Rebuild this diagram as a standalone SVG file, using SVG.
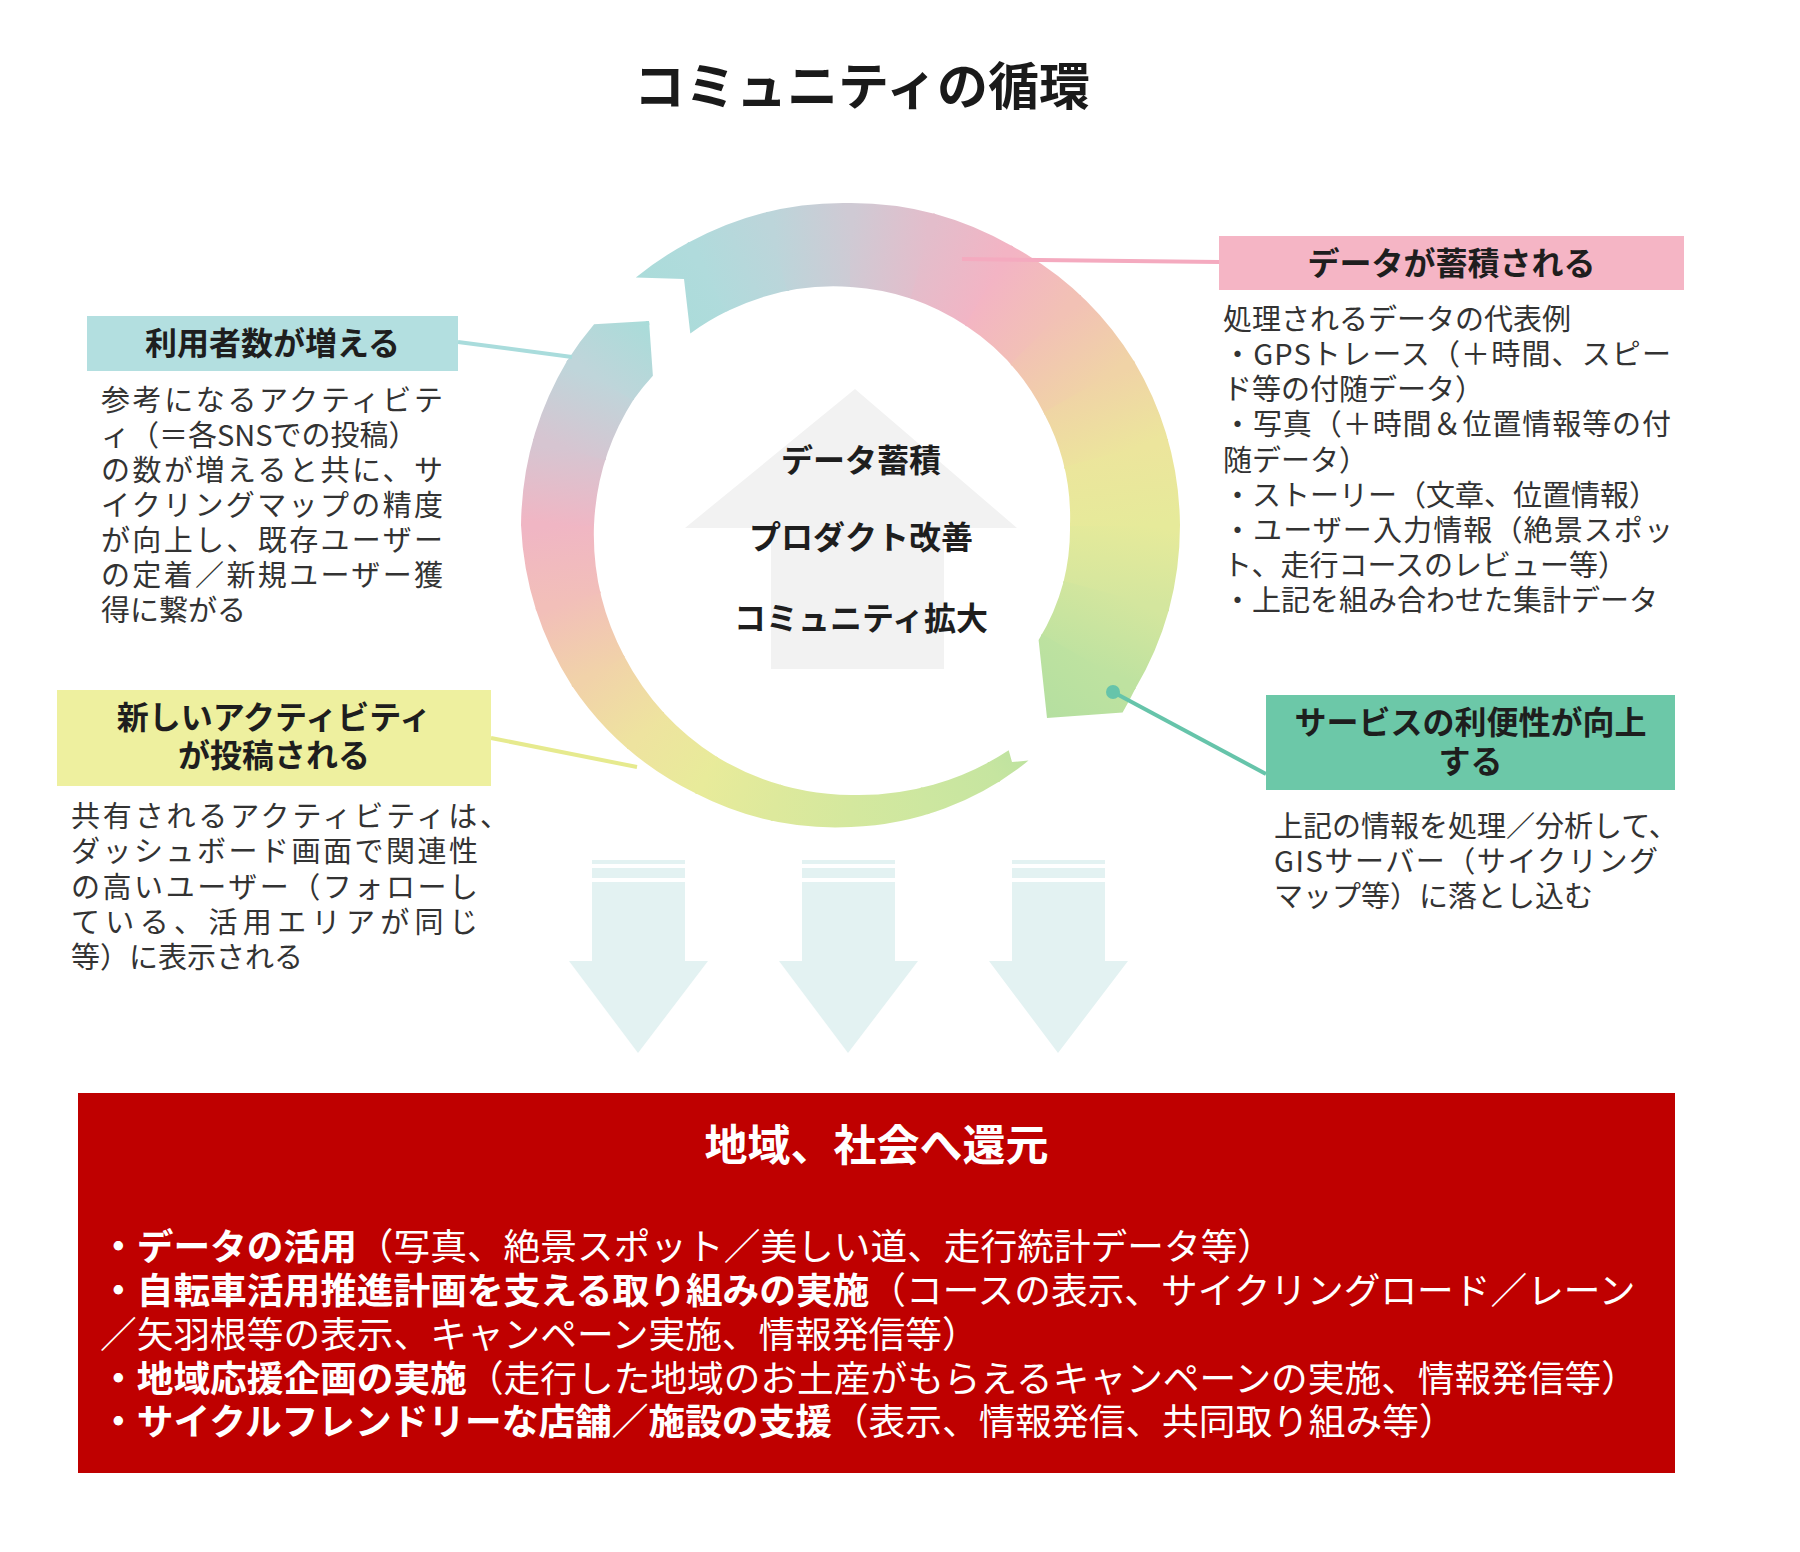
<svg xmlns="http://www.w3.org/2000/svg" width="1800" height="1552" viewBox="0 0 1800 1552">
<style>
text{font-family:"Noto Sans CJK JP","Noto Sans CJK SC",sans-serif;}
.t{font-size:51px;font-weight:700;fill:#1a1a1a;text-anchor:middle}
.lbl{font-size:32px;font-weight:700;fill:#1e1e1e;text-anchor:middle}
.body{font-size:29px;fill:#333}
.ctr{font-size:32px;font-weight:700;fill:#1e1e1e;text-anchor:middle}
.rt{font-size:43px;font-weight:700;fill:#fff;text-anchor:middle}
.rb{font-size:36.7px;fill:#fff}
.b{font-weight:700}
.ln{stroke-width:4;fill:none}
.da{fill:#e3f2f2}
.w{stroke-width:2}
</style>
<defs>
<linearGradient id="g0" gradientUnits="userSpaceOnUse" x1="1141" y1="525" x2="1131.1" y2="600.1"><stop offset="0" stop-color="#e6ea9a"/><stop offset="1" stop-color="#d4e69e"/></linearGradient>
<linearGradient id="g1" gradientUnits="userSpaceOnUse" x1="1131.1" y1="600.1" x2="1102.1" y2="670"><stop offset="0" stop-color="#d4e69e"/><stop offset="1" stop-color="#bee2a0"/></linearGradient>
<linearGradient id="g2" gradientUnits="userSpaceOnUse" x1="1102.1" y1="670" x2="1056.1" y2="730.1"><stop offset="0" stop-color="#bee2a0"/><stop offset="1" stop-color="#b4dfa0"/></linearGradient>
<linearGradient id="g3" gradientUnits="userSpaceOnUse" x1="1056.1" y1="730.1" x2="996" y2="776.1"><stop offset="0" stop-color="#b4dfa0"/><stop offset="1" stop-color="#c6e5a0"/></linearGradient>
<linearGradient id="g4" gradientUnits="userSpaceOnUse" x1="996" y1="776.1" x2="926.1" y2="805.1"><stop offset="0" stop-color="#c6e5a0"/><stop offset="1" stop-color="#cde7a0"/></linearGradient>
<linearGradient id="g5" gradientUnits="userSpaceOnUse" x1="926.1" y1="805.1" x2="851" y2="815"><stop offset="0" stop-color="#cde7a0"/><stop offset="1" stop-color="#d4e89e"/></linearGradient>
<linearGradient id="g6" gradientUnits="userSpaceOnUse" x1="851" y1="815" x2="775.9" y2="805.1"><stop offset="0" stop-color="#d4e89e"/><stop offset="1" stop-color="#dde99c"/></linearGradient>
<linearGradient id="g7" gradientUnits="userSpaceOnUse" x1="775.9" y1="805.1" x2="706" y2="776.1"><stop offset="0" stop-color="#dde99c"/><stop offset="1" stop-color="#e8eb9a"/></linearGradient>
<linearGradient id="g8" gradientUnits="userSpaceOnUse" x1="706" y1="776.1" x2="645.9" y2="730.1"><stop offset="0" stop-color="#e8eb9a"/><stop offset="1" stop-color="#eee39f"/></linearGradient>
<linearGradient id="g9" gradientUnits="userSpaceOnUse" x1="645.9" y1="730.1" x2="599.9" y2="670"><stop offset="0" stop-color="#eee39f"/><stop offset="1" stop-color="#f1d2a9"/></linearGradient>
<linearGradient id="g10" gradientUnits="userSpaceOnUse" x1="599.9" y1="670" x2="570.9" y2="600.1"><stop offset="0" stop-color="#f1d2a9"/><stop offset="1" stop-color="#f2bfb9"/></linearGradient>
<linearGradient id="g11" gradientUnits="userSpaceOnUse" x1="570.9" y1="600.1" x2="561" y2="525"><stop offset="0" stop-color="#f2bfb9"/><stop offset="1" stop-color="#f0b6c4"/></linearGradient>
<linearGradient id="g12" gradientUnits="userSpaceOnUse" x1="561" y1="525" x2="570.9" y2="449.9"><stop offset="0" stop-color="#f0b6c4"/><stop offset="1" stop-color="#d6c5d1"/></linearGradient>
<linearGradient id="g13" gradientUnits="userSpaceOnUse" x1="570.9" y1="449.9" x2="599.9" y2="380"><stop offset="0" stop-color="#d6c5d1"/><stop offset="1" stop-color="#bfd5da"/></linearGradient>
<linearGradient id="g14" gradientUnits="userSpaceOnUse" x1="599.9" y1="380" x2="645.9" y2="319.9"><stop offset="0" stop-color="#bfd5da"/><stop offset="1" stop-color="#a9dcd9"/></linearGradient>
<linearGradient id="g15" gradientUnits="userSpaceOnUse" x1="645.9" y1="319.9" x2="706" y2="273.9"><stop offset="0" stop-color="#a9dcd9"/><stop offset="1" stop-color="#b0dbdc"/></linearGradient>
<linearGradient id="g16" gradientUnits="userSpaceOnUse" x1="706" y1="273.9" x2="775.9" y2="244.9"><stop offset="0" stop-color="#b0dbdc"/><stop offset="1" stop-color="#bcd5da"/></linearGradient>
<linearGradient id="g17" gradientUnits="userSpaceOnUse" x1="775.9" y1="244.9" x2="851" y2="235"><stop offset="0" stop-color="#bcd5da"/><stop offset="1" stop-color="#cfcad4"/></linearGradient>
<linearGradient id="g18" gradientUnits="userSpaceOnUse" x1="851" y1="235" x2="926.1" y2="244.9"><stop offset="0" stop-color="#cfcad4"/><stop offset="1" stop-color="#e3bdcb"/></linearGradient>
<linearGradient id="g19" gradientUnits="userSpaceOnUse" x1="926.1" y1="244.9" x2="996" y2="273.9"><stop offset="0" stop-color="#e3bdcb"/><stop offset="1" stop-color="#f3b4c4"/></linearGradient>
<linearGradient id="g20" gradientUnits="userSpaceOnUse" x1="996" y1="273.9" x2="1056.1" y2="319.9"><stop offset="0" stop-color="#f3b4c4"/><stop offset="1" stop-color="#f2c1b5"/></linearGradient>
<linearGradient id="g21" gradientUnits="userSpaceOnUse" x1="1056.1" y1="319.9" x2="1102.1" y2="380"><stop offset="0" stop-color="#f2c1b5"/><stop offset="1" stop-color="#f0d3a6"/></linearGradient>
<linearGradient id="g22" gradientUnits="userSpaceOnUse" x1="1102.1" y1="380" x2="1131.1" y2="449.9"><stop offset="0" stop-color="#f0d3a6"/><stop offset="1" stop-color="#ece59c"/></linearGradient>
<linearGradient id="g23" gradientUnits="userSpaceOnUse" x1="1131.1" y1="449.9" x2="1141" y2="525"><stop offset="0" stop-color="#ece59c"/><stop offset="1" stop-color="#e6ea9a"/></linearGradient>
<clipPath id="ringClip">
<path id="seg1" d="M635.8,277.5 A327 327 0 0 1 688,242.7 A324 324 0 0 1 851,203 A322 322 0 0 1 1012,246.1 A324 324 0 0 1 1134.2,361.5 A328 328 0 0 1 1180,525 A329 329 0 0 1 1168.8,610.2 A328 328 0 0 1 1135.1,689 A330 330 0 0 1 1122.6,712.4 L1047,718 L1038.6,640 A220 220 0 0 0 1063.5,581.9 A220 220 0 0 0 1070,525 A221 221 0 0 0 1044.1,413.5 A226 226 0 0 0 966,325.8 A234 234 0 0 0 851,287 A242 242 0 0 0 727.5,311.1 A248 248 0 0 0 690.3,333.5 L684,279 Z"/>
<path id="seg2" d="M1028.5,760.6 A298 298 0 0 1 851,827 A306 306 0 0 1 696,793.5 A316 316 0 0 1 572.1,686 A326 326 0 0 1 521,525 A329 329 0 0 1 567,361 A327 327 0 0 1 594.1,324.3 L649,321 L652.9,375.8 A250 250 0 0 0 633.6,399.5 A254 254 0 0 0 594,525 A260 260 0 0 0 624.1,656 A265 265 0 0 0 717,757.1 A269 269 0 0 0 851,795 A272 272 0 0 0 1008.7,750.3 L1012,762 Z"/>
</clipPath>
</defs>
<rect x="0" y="0" width="1800" height="1552" fill="#fff"/>

<text class="t" x="862" y="105">コミュニティの循環</text>

<g id="center-arrow">
<polygon points="855,389 1017,528 944,528 944,669 771,669 771,528 685,528" fill="#f2f2f2"/>
<text class="ctr"><tspan x="861" y="472">データ蓄積</tspan><tspan x="861" y="549">プロダクト改善</tspan><tspan x="861" y="630">コミュニティ拡大</tspan></text>
</g>

<g id="cycle-ring" clip-path="url(#ringClip)">
<polygon class="w" fill="url(#g0)" stroke="url(#g0)" points="851,525 1271,525 1256.7,633.7"/>
<polygon class="w" fill="url(#g1)" stroke="url(#g1)" points="851,525 1256.7,633.7 1214.7,735"/>
<polygon class="w" fill="url(#g2)" stroke="url(#g2)" points="851,525 1214.7,735 1148,822"/>
<polygon class="w" fill="url(#g3)" stroke="url(#g3)" points="851,525 1148,822 1061,888.7"/>
<polygon class="w" fill="url(#g4)" stroke="url(#g4)" points="851,525 1061,888.7 959.7,930.7"/>
<polygon class="w" fill="url(#g5)" stroke="url(#g5)" points="851,525 959.7,930.7 851,945"/>
<polygon class="w" fill="url(#g6)" stroke="url(#g6)" points="851,525 851,945 742.3,930.7"/>
<polygon class="w" fill="url(#g7)" stroke="url(#g7)" points="851,525 742.3,930.7 641,888.7"/>
<polygon class="w" fill="url(#g8)" stroke="url(#g8)" points="851,525 641,888.7 554,822"/>
<polygon class="w" fill="url(#g9)" stroke="url(#g9)" points="851,525 554,822 487.3,735"/>
<polygon class="w" fill="url(#g10)" stroke="url(#g10)" points="851,525 487.3,735 445.3,633.7"/>
<polygon class="w" fill="url(#g11)" stroke="url(#g11)" points="851,525 445.3,633.7 431,525"/>
<polygon class="w" fill="url(#g12)" stroke="url(#g12)" points="851,525 431,525 445.3,416.3"/>
<polygon class="w" fill="url(#g13)" stroke="url(#g13)" points="851,525 445.3,416.3 487.3,315"/>
<polygon class="w" fill="url(#g14)" stroke="url(#g14)" points="851,525 487.3,315 554,228"/>
<polygon class="w" fill="url(#g15)" stroke="url(#g15)" points="851,525 554,228 641,161.3"/>
<polygon class="w" fill="url(#g16)" stroke="url(#g16)" points="851,525 641,161.3 742.3,119.3"/>
<polygon class="w" fill="url(#g17)" stroke="url(#g17)" points="851,525 742.3,119.3 851,105"/>
<polygon class="w" fill="url(#g18)" stroke="url(#g18)" points="851,525 851,105 959.7,119.3"/>
<polygon class="w" fill="url(#g19)" stroke="url(#g19)" points="851,525 959.7,119.3 1061,161.3"/>
<polygon class="w" fill="url(#g20)" stroke="url(#g20)" points="851,525 1061,161.3 1148,228"/>
<polygon class="w" fill="url(#g21)" stroke="url(#g21)" points="851,525 1148,228 1214.7,315"/>
<polygon class="w" fill="url(#g22)" stroke="url(#g22)" points="851,525 1214.7,315 1256.7,416.3"/>
<polygon class="w" fill="url(#g23)" stroke="url(#g23)" points="851,525 1256.7,416.3 1271,525"/>
</g>

<g id="connectors">
<line class="ln" x1="458" y1="342" x2="572" y2="357" stroke="#a9dcdc"/>
<line class="ln" x1="962" y1="259" x2="1219" y2="262" stroke="#f4aabf"/>
<line class="ln" x1="491" y1="738" x2="637" y2="767" stroke="#e6ea8e"/>
<line class="ln" x1="1113" y1="692" x2="1266" y2="774" stroke="#66c4aa"/>
<circle cx="1113" cy="692" r="7" fill="#66c4aa"/>
</g>

<g id="node-users">
<rect x="87" y="316" width="371" height="55" fill="#b3dfe0"/>
<text class="lbl" x="272.5" y="355">利用者数が増える</text>
<text class="body"><tspan x="101" y="411" textLength="342" lengthAdjust="spacing">参考になるアクティビテ</tspan><tspan x="101" y="446">ィ（＝各SNSでの投稿）</tspan><tspan x="101" y="481" textLength="342" lengthAdjust="spacing">の数が増えると共に、サ</tspan><tspan x="101" y="516" textLength="342" lengthAdjust="spacing">イクリングマップの精度</tspan><tspan x="101" y="551" textLength="342" lengthAdjust="spacing">が向上し、既存ユーザー</tspan><tspan x="101" y="586" textLength="342" lengthAdjust="spacing">の定着／新規ユーザー獲</tspan><tspan x="101" y="621">得に繋がる</tspan></text>
</g>

<g id="node-data">
<rect x="1219" y="236" width="465" height="54" fill="#f5b5c5"/>
<text class="lbl" x="1451.5" y="275">データが蓄積される</text>
<text class="body"><tspan x="1223" y="330">処理されるデータの代表例</tspan><tspan x="1223" y="365" textLength="448" lengthAdjust="spacing">・GPSトレース（＋時間、スピー</tspan><tspan x="1223" y="400">ド等の付随データ）</tspan><tspan x="1223" y="435" textLength="448" lengthAdjust="spacing">・写真（＋時間＆位置情報等の付</tspan><tspan x="1223" y="470.5">随データ）</tspan><tspan x="1223" y="505.5">・ストーリー（文章、位置情報）</tspan><tspan x="1223" y="540.5" textLength="450" lengthAdjust="spacing">・ユーザー入力情報（絶景スポッ</tspan><tspan x="1223" y="576">ト、走行コースのレビュー等）</tspan><tspan x="1223" y="611">・上記を組み合わせた集計データ</tspan></text>
</g>

<g id="node-post">
<rect x="57" y="690" width="434" height="96" fill="#eef09f"/>
<text class="lbl"><tspan x="274" y="729">新しいアクティビティ</tspan><tspan x="274" y="767">が投稿される</tspan></text>
<text class="body"><tspan x="71" y="827" textLength="438" lengthAdjust="spacing">共有されるアクティビティは、</tspan><tspan x="71" y="862" textLength="407" lengthAdjust="spacing">ダッシュボード画面で関連性</tspan><tspan x="71" y="898" textLength="407" lengthAdjust="spacing">の高いユーザー（フォローし</tspan><tspan x="71" y="933" textLength="407" lengthAdjust="spacing">ている、活用エリアが同じ</tspan><tspan x="71" y="968">等）に表示される</tspan></text>
</g>

<g id="node-service">
<rect x="1266" y="695" width="409" height="95" fill="#6cc8a8"/>
<text class="lbl"><tspan x="1470.5" y="734">サービスの利便性が向上</tspan><tspan x="1470.5" y="773">する</tspan></text>
<text class="body"><tspan x="1274" y="837">上記の情報を処理／分析して、</tspan><tspan x="1274" y="872" textLength="384" lengthAdjust="spacing">GISサーバー（サイクリング</tspan><tspan x="1274" y="907">マップ等）に落とし込む</tspan></text>
</g>

<g id="down-arrows">
<g id="darrow1" class="da">
<rect x="592" y="860" width="93" height="4"/>
<rect x="592" y="868" width="93" height="10"/>
<polygon points="592,882 685,882 685,961 708,961 638,1053 569,961 592,961"/>
</g>
<g id="darrow2" class="da" transform="translate(210,0)">
<rect x="592" y="860" width="93" height="4"/>
<rect x="592" y="868" width="93" height="10"/>
<polygon points="592,882 685,882 685,961 708,961 638,1053 569,961 592,961"/>
</g>
<g id="darrow3" class="da" transform="translate(420,0)">
<rect x="592" y="860" width="93" height="4"/>
<rect x="592" y="868" width="93" height="10"/>
<polygon points="592,882 685,882 685,961 708,961 638,1053 569,961 592,961"/>
</g>
</g>

<g id="node-return">
<rect x="78" y="1093" width="1597" height="380" fill="#bf0000"/>
<text class="rt" x="876.5" y="1161">地域、社会へ還元</text>
<text class="rb"><tspan x="100" y="1260" class="b">・データの活用</tspan><tspan>（写真、絶景スポット／美しい道、走行統計データ等）</tspan><tspan x="100" y="1304" class="b">・自転車活用推進計画を支える取り組みの実施</tspan><tspan>（コースの表示、サイクリングロード／レーン</tspan><tspan x="100" y="1348">／矢羽根等の表示、キャンペーン実施、情報発信等）</tspan><tspan x="100" y="1392" class="b">・地域応援企画の実施</tspan><tspan>（走行した地域のお土産がもらえるキャンペーンの実施、情報発信等）</tspan><tspan x="100" y="1435" class="b">・サイクルフレンドリーな店舗／施設の支援</tspan><tspan>（表示、情報発信、共同取り組み等）</tspan></text>
</g>
</svg>
